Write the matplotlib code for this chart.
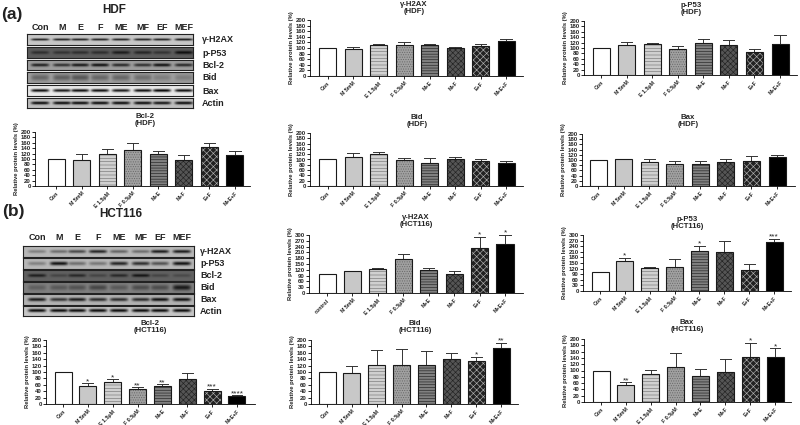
import numpy as np
import matplotlib
matplotlib.use('Agg')
import matplotlib.pyplot as plt

plt.rcParams['font.family'] = ['Liberation Sans', 'DejaVu Sans']
plt.rcParams['hatch.linewidth'] = 0.45

W, H = 800, 425

groups = ['Con', 'M 5mM', 'E 1.5μM', 'F 0.5μM', 'M+E', 'M+F', 'E+F', 'M+E+F']
groups2 = ['control'] + groups[1:]
lanes = ['Con', 'M', 'E', 'F', 'ME', 'MF', 'EF', 'MEF']
proteins = ['γ-H2AX', 'p-P53', 'Bcl-2', 'Bid', 'Bax', 'Actin']

# bar heights and top of the error bars
hdf_h2ax = [100, 95, 110, 110, 110, 100, 107, 125]
hdf_h2ax_top = [101, 105, 114, 121, 114, 105, 116, 132]
hdf_p53 = [100, 112, 113, 98, 118, 110, 87, 116]
hdf_p53_top = [101, 124, 120, 106, 132, 130, 96, 147]
hdf_bcl2 = [100, 98, 120, 135, 119, 98, 146, 115]
hdf_bcl2_top = [100, 120, 137, 160, 130, 113, 158, 128]
hdf_bid = [100, 110, 119, 99, 88, 102, 95, 87]
hdf_bid_top = [101, 123, 127, 105, 105, 110, 103, 94]
hdf_bax = [100, 102, 93, 83, 83, 92, 97, 110]
hdf_bax_top = [100, 105, 104, 95, 97, 102, 115, 118]
hct_h2ax = [100, 112, 125, 177, 120, 100, 232, 252]
hct_h2ax_top = [100, 116, 130, 203, 128, 112, 290, 300]
hct_p53 = [100, 162, 125, 130, 213, 208, 113, 262]
hct_p53_top = [100, 178, 127, 170, 243, 268, 142, 278]
hct_bcl2 = [100, 55, 69, 47, 56, 77, 41, 26]
hct_bcl2_top = [100, 65, 77, 53, 62, 97, 48, 27]
hct_bid = [100, 97, 122, 123, 123, 140, 135, 175]
hct_bid_top = [100, 118, 168, 172, 166, 160, 147, 191]
hct_bax = [100, 55, 89, 110, 81, 96, 142, 142]
hct_bax_top = [100, 63, 102, 155, 105, 136, 188, 170]

hct_h2ax_stars = ['', '', '', '', '', '', '*', '*']
hct_p53_stars = ['', '*', '', '', '*', '', '', '***']
hct_bcl2_stars = ['', '*', '*', '**', '**', '', '***', '****']
hct_bid_stars = ['', '', '', '', '', '', '*', '**']
hct_bax_stars = ['', '**', '', '', '', '', '*', '*']

# band strength per lane for the blots
hdf_bands = [[.85, .85, .85, .85, .85, .85, .85, .9],
             [.5, .45, .5, .5, .7, .6, .45, .85],
             [.8, .7, .85, .9, .75, .7, .9, .75],
             [.35, .4, .45, .35, .35, .3, .2, .2],
             [.95, .9, .95, .95, .9, .95, 1, .95],
             [.95, .95, .95, .95, .95, .95, .9, .95]]
hdf_bg = [.78, .36, .62, .62, .92, .75]
hdf_sigma = [.2, .3, .32, .6, .27, .3]
hct_bands = [[.3, .4, .6, .8, .45, .4, .85, .85],
             [.3, .9, .4, .35, .8, .75, .55, .9],
             [.7, .3, .6, .3, .6, .8, .3, .25],
             [.25, .3, .35, .45, .3, .4, .4, .8],
             [.85, .7, .85, .75, .75, .75, .9, .9],
             [.95, .95, .95, .95, .95, .95, .95, .95]]
hct_bg = [.72, .72, .38, .5, .7, .78]
hct_sigma = [.3, .34, .28, .5, .32, .3]

faces = ['white', '#c8c8c8', '#d0d0d0', '#a0a0a0', '#808080', '#555555', '#222222', 'black']
hatches = [None, None, '-----', '.......', '------', 'xxxxxx', 'xxxxx', None]
hatch_cols = ['k', '#888888', '#777777', '#666666', '#222222', '#222222', '#b0b0b0', 'k']


def px_axes(fig, l, t, r, b):
    return fig.add_axes([l / W, 1 - b / H, (r - l) / W, (b - t) / H])


def bar_panel(fig, box, first, last, vals, tops, ymax, step, labels=groups, stars=None):
    l, t, r, b = box
    ax = px_axes(fig, l, t, r, b)
    sp = (last - first) / 7
    x = np.arange(8)
    for i in x:
        # hatch takes the edge colour, so the outline goes on as a second bar
        ax.bar(i, vals[i], width=17 / sp, facecolor=faces[i], edgecolor=hatch_cols[i], linewidth=0,
               hatch=hatches[i], zorder=2)
        ax.bar(i, vals[i], width=17 / sp, fill=False, edgecolor='#1a1a1a', linewidth=0.8, zorder=3)
        # GraphPad style, only the upper half of the error bar
        ax.plot([i, i], [vals[i], tops[i]], color='#333333', lw=0.7, zorder=1)
        ax.plot([i - .22, i + .22], [tops[i], tops[i]], color='#333333', lw=0.7, zorder=1)
        if stars and stars[i]:
            ax.text(i, tops[i] - ymax * .03, stars[i], ha='center', va='bottom', fontsize=6, color='#222222',
                    clip_on=False)
    ax.set_xlim((l - first) / sp, (r - first) / sp)
    ax.set_ylim(0, ymax)
    ax.set_yticks(np.arange(0, ymax + 1, step))
    ax.set_xticks(x)
    ax.set_xticklabels(labels, rotation=45, ha='right', rotation_mode='anchor', fontweight='bold', color='#222222')
    ax.tick_params(axis='y', labelsize=4.3, length=2, width=0.6, pad=1, labelcolor='#222222')
    ax.tick_params(axis='x', labelsize=3.8, length=2, width=0.6, pad=1.5)
    for lab in ax.get_yticklabels():
        lab.set_fontweight('bold')
    ax.set_ylabel('Relative protein levels (%)', fontsize=4.2, fontweight='bold', labelpad=1.5, color='#222222')
    ax.patch.set_alpha(0)
    ax.spines['top'].set_visible(False)
    ax.spines['right'].set_visible(False)
    ax.spines['left'].set_linewidth(0.6)
    ax.spines['bottom'].set_linewidth(0.6)
    return ax


def ptitle(fig, cx, cy, s):
    fig.text(cx / W, 1 - cy / H, s, ha='center', va='center', fontsize=5.6, fontweight='bold',
             linespacing=0.95, color='#222222')


def blot_strip(fig, box, bands, bg, sigma, centers):
    l, t, r, b = box
    ax = px_axes(fig, l, t, r, b)
    xs = np.linspace(l, r, (r - l) * 3)
    ys = np.linspace(-1, 1, (b - t) * 3)
    xx, yy = np.meshgrid(xs, ys)
    dark = np.zeros_like(xx)
    for c, k in zip(centers, bands):
        dark = np.maximum(dark, k * np.exp(-((xx - c) / 9.0) ** 6) * np.exp(-(yy / sigma) ** 2))
    ax.imshow(bg * (1 - dark), cmap='gray', vmin=0, vmax=1, aspect='auto', interpolation='bilinear')
    ax.set_xticks([])
    ax.set_yticks([])
    for sp in ax.spines.values():
        sp.set_linewidth(0.8)
        sp.set_color('#222222')


fig = plt.figure(figsize=(W / 100, H / 100), dpi=100)

# blot (a)
a_rows = [(34, 45), (47, 58), (60, 70), (72, 83), (85, 96), (98, 108)]
a_lane_x = [40, 62, 80, 100, 121, 143, 162, 184]
for i in range(6):
    blot_strip(fig, (27, a_rows[i][0], 193, a_rows[i][1]), hdf_bands[i], hdf_bg[i], hdf_sigma[i], a_lane_x)
    fig.text(202 / W, 1 - (sum(a_rows[i]) / 2 + .5) / H, proteins[i], fontsize=6.5, fontweight='bold',
             va='center', color='#222222')
for i in range(8):
    fig.text(a_lane_x[i] / W, 1 - 27 / H, lanes[i], fontsize=6.5, fontweight='bold', ha='center', va='center',
             color='#222222')
fig.text(114 / W, 1 - 10 / H, 'HDF', fontsize=8.5, fontweight='bold', ha='center', va='center', color='#222222')
fig.text(12 / W, 1 - 14 / H, '(a)', fontsize=12.5, fontweight='bold', ha='center', va='center', color='#222222')

# blot (b)
b_rows = [(246, 257), (258, 269), (270, 281), (282, 293), (294, 305), (306, 316)]
b_lane_x = [37, 59, 77, 98, 119, 141, 160, 182]
for i in range(6):
    blot_strip(fig, (23, b_rows[i][0], 194, b_rows[i][1]), hct_bands[i], hct_bg[i], hct_sigma[i], b_lane_x)
    fig.text(200 / W, 1 - (sum(b_rows[i]) / 2 + .5) / H, proteins[i], fontsize=6.5, fontweight='bold',
             va='center', color='#222222')
for i in range(8):
    fig.text(b_lane_x[i] / W, 1 - 237 / H, lanes[i], fontsize=6.5, fontweight='bold', ha='center', va='center',
             color='#222222')
fig.text(121 / W, 1 - 214 / H, 'HCT116', fontsize=8.5, fontweight='bold', ha='center', va='center', color='#222222')
fig.text(13 / W, 1 - 212 / H, '(b)', fontsize=12.5, fontweight='bold', ha='center', va='center', color='#222222')

# HDF panels
bar_panel(fig, (310, 20, 523, 76), 327.5, 506, hdf_h2ax, hdf_h2ax_top, 200, 20)
ptitle(fig, 414, 8, 'γ-H2AX\n(HDF)')
bar_panel(fig, (584, 21, 797, 75), 601, 780, hdf_p53, hdf_p53_top, 200, 20)
ptitle(fig, 691, 9, 'p-P53\n(HDF)')
bar_panel(fig, (35, 132, 250, 186), 56, 235, hdf_bcl2, hdf_bcl2_top, 200, 20)
ptitle(fig, 145, 120, 'Bcl-2\n(HDF)')
bar_panel(fig, (310, 133, 523, 186), 327.5, 506, hdf_bid, hdf_bid_top, 200, 20)
ptitle(fig, 417, 121, 'Bid\n(HDF)')
bar_panel(fig, (582, 134, 795, 186), 598, 777, hdf_bax, hdf_bax_top, 200, 20)
ptitle(fig, 688, 121, 'Bax\n(HDF)')

# HCT116 panels
bar_panel(fig, (309, 235, 523, 293), 327, 505, hct_h2ax, hct_h2ax_top, 300, 30, labels=groups2,
          stars=hct_h2ax_stars)
ptitle(fig, 416, 221, 'γ-H2AX\n(HCT116)')
bar_panel(fig, (583, 235, 791, 291), 600, 774, hct_p53, hct_p53_top, 300, 30, stars=hct_p53_stars)
ptitle(fig, 687, 223, 'p-P53\n(HCT116)')
bar_panel(fig, (46, 340, 255, 404), 63, 237, hct_bcl2, hct_bcl2_top, 200, 20, stars=hct_bcl2_stars)
ptitle(fig, 150, 327, 'Bcl-2\n(HCT116)')
bar_panel(fig, (311, 340, 518, 404), 327, 501, hct_bid, hct_bid_top, 200, 20, stars=hct_bid_stars)
ptitle(fig, 415, 327, 'Bid\n(HCT116)')
bar_panel(fig, (584, 339, 791, 402), 601, 775, hct_bax, hct_bax_top, 200, 20, stars=hct_bax_stars)
ptitle(fig, 687, 326, 'Bax\n(HCT116)')

fig.savefig('out.png', dpi=100)
